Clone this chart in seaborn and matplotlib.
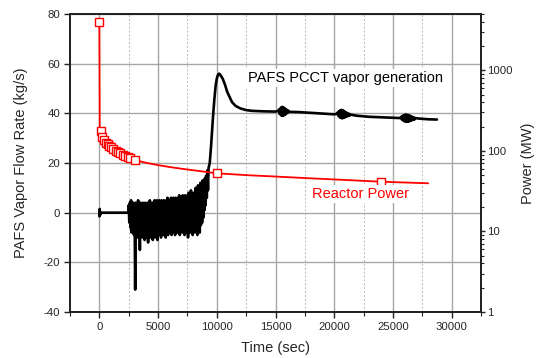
import numpy as np
import pandas as pd
import matplotlib
matplotlib.use("Agg")
import matplotlib.pyplot as plt
import seaborn as sns
from matplotlib.ticker import FixedLocator, MultipleLocator, LogLocator, NullFormatter

# ---------------- data ----------------
# PAFS PCCT vapor flow (kg/s)
flow_t_start = [0, 30, 60, 100, 2450]
flow_v_start = [-1.5, 1.5, -1.0, 0.0, 0.0]

# noisy phase, samples every 50 s starting at 2450 s
noise_t0 = 2450
noise_v = [0, 3, -4, 4, -6, 5, -8, 3, -7, 4, -9, 2, -31, 4, -8, 3, -10, 5, -8, 3,
           -15, 4, -9, 3, -10, 4, -8, 2, -11, 4, -9, 3, -10, 4, -12, 3, -9, 5, -10, 3,
           -8, 4, -11, 4, -9, 5, -10, 3, -8, 5, -11, 4, -9, 5, -8, 4, -10, 5, -7, 4,
           -9, 5, -8, 4, -10, 5, -7, 6, -9, 4, -8, 5, -7, 6, -9, 5, -8, 6, -7, 5,
           -9, 6, -6, 5, -8, 6, -7, 7, -9, 5, -6, 6, -8, 7, -7, 6, -9, 7, -6, 6,
           -8, 7, -10, 8, -6, 6, -8, 9, -7, 7, -9, 8, -6, 7, -8, 10, -7, 8, -9, 11,
           -6, 9, -8, 12, -5, 10, -4, 13, -2, 11, 1, 14, 3, 15, 6, 17, 9, 18]

rise_t = [9400, 9500, 9600, 9700, 9800, 9900, 10000, 10100, 10200, 10300, 10500,
          10700, 10900, 11100, 11300, 11600, 12000, 12500, 13000, 14000, 15000, 15250]
rise_v = [20, 26, 33, 40, 46, 51, 54, 55.5, 56, 55.5, 54,
          51.5, 48.5, 46.5, 44.5, 43, 42, 41.3, 41, 40.8, 40.7, 41]

osc1_t0 = 15300
osc1_v = [41.5, 39.8, 42, 39.3, 42.5, 39, 42.6, 39, 42.3, 39.3, 42, 39.6, 41.6, 40,
          41.3, 40.2, 41]

mid1_t = [16200, 17000, 18000, 19000, 20000, 20200]
mid1_v = [40.6, 40.5, 40.2, 39.9, 39.6, 39.8]

osc2_t0 = 20300
osc2_v = [40.3, 39, 40.8, 38.5, 41.2, 38.2, 41.4, 38, 41.3, 38.1, 41, 38.3, 40.7,
          38.5, 40.4, 38.7, 40.1, 38.9, 39.9, 39.1, 39.7, 39.2, 39.5]

mid2_t = [21700, 22000, 23000, 24000, 25000, 25600]
mid2_v = [39.2, 39, 38.6, 38.4, 38.2, 38.1]

osc3_t0 = 25700
osc3_v = [38.6, 37.6, 38.9, 37.2, 39.2, 36.9, 39.4, 36.7, 39.5, 36.6, 39.4, 36.6,
          39.3, 36.7, 39.1, 36.9, 38.9, 37.1, 38.7, 37.3, 38.5, 37.4, 38.3, 37.6, 38.1]

tail_t = [27200, 27500, 28000, 28750]
tail_v = [37.9, 37.8, 37.6, 37.5]

sample_dt = 50  # s, spacing of the sampled noisy / oscillating stretches

# Reactor power (MW)
power_t = [0, 30, 100, 250, 400, 550, 700, 850, 1000, 1200, 1400, 1600, 1800, 2000,
           2200, 2400, 2600, 3000, 3500, 4000, 5000, 6000, 7000, 8000, 9000, 10000,
           12500, 15000, 17500, 20000, 22000, 24000, 26000, 28000]
power_mw = [4000, 200, 178, 150, 136, 127, 122, 116, 112, 107, 101, 97, 93, 90,
            87, 84, 81, 77, 74, 71, 66.5, 63, 60, 57.5, 55, 52.7,
            50, 48, 46, 44.2, 42.8, 41.4, 40.5, 39.6]
power_marker_t = [0, 100, 250, 400, 550, 700, 850, 1000, 1200, 1400, 1600, 1800,
                  2000, 2200, 2400, 2600, 3000, 10000, 24000]

x_ticks = [0, 5000, 10000, 15000, 20000, 25000, 30000]
y_ticks = [-40, -20, 0, 20, 40, 60, 80]
r_ticks = [1, 10, 100, 1000]

# ---------------- build frames ----------------
def sampled(t0, vals):
    return [t0 + sample_dt * i for i in range(len(vals))]

flow = pd.DataFrame({
    "t": (flow_t_start + sampled(noise_t0, noise_v) + rise_t + sampled(osc1_t0, osc1_v)
          + mid1_t + sampled(osc2_t0, osc2_v) + mid2_t + sampled(osc3_t0, osc3_v) + tail_t),
    "v": (flow_v_start + noise_v + rise_v + osc1_v + mid1_v + osc2_v + mid2_v
          + osc3_v + tail_v),
})
power = pd.DataFrame({"t": power_t, "mw": power_mw})
power_mk = power[power["t"].isin(power_marker_t)]

# ---------------- plot ----------------
sns.set_theme(style="white")
plt.rcParams["font.family"] = ["Liberation Sans", "DejaVu Sans"]
plt.rcParams["axes.unicode_minus"] = False

fig = plt.figure(figsize=(5.36, 3.58), dpi=100)
ax = fig.add_axes([70 / 536, 1 - 312 / 358, (481 - 70) / 536, (312 - 14) / 358])

ax.set_xlim(-2500, 32500)
ax.set_ylim(-40, 80)
ax.xaxis.set_major_locator(FixedLocator(x_ticks))
ax.xaxis.set_minor_locator(MultipleLocator(2500))
ax.yaxis.set_major_locator(FixedLocator(y_ticks))

ax.grid(which="major", axis="both", color="#a6a6a6", lw=1.0, ls="-", zorder=0)
ax.grid(which="minor", axis="x", color="#b8b8b8", lw=0.7, ls=(0, (2, 2)), zorder=0)
ax.set_axisbelow(True)

sns.lineplot(data=flow, x="t", y="v", ax=ax, color="black", lw=1.9,
             sort=False, estimator=None)

ax.set_xlabel("Time (sec)", fontsize=10.5, labelpad=7)
ax.set_ylabel("PAFS Vapor Flow Rate (kg/s)", fontsize=10.5, labelpad=11)

ax2 = ax.twinx()
ax2.set_yscale("log")
ax2.set_ylim(1, 5000)
sns.lineplot(data=power, x="t", y="mw", ax=ax2, color="red", lw=1.3,
             sort=False, estimator=None)
ax2.plot(power_mk["t"], power_mk["mw"], ls="none", marker="s", ms=6,
         mfc="white", mec="red", mew=1.0)
ax2.yaxis.set_major_locator(FixedLocator(r_ticks))
ax2.set_yticklabels([str(v) for v in r_ticks])
ax2.yaxis.set_minor_locator(LogLocator(base=10, subs=np.arange(2, 10)))
ax2.yaxis.set_minor_formatter(NullFormatter())
ax2.set_ylabel("Power (MW)", fontsize=10.5, labelpad=6)
ax2.set_xlim(-2500, 32500)

for a in (ax, ax2):
    for s in a.spines.values():
        s.set_color("#222222")
        s.set_linewidth(1.3)
        s.set_visible(True)

ax.tick_params(axis="both", which="major", direction="out", length=4.5, width=1,
               labelsize=8.2, color="#222222", pad=2.5,
               left=True, bottom=True, right=False, top=False)
ax.tick_params(axis="x", which="minor", direction="out", length=3, width=0.8,
               bottom=True, color="#222222")
ax2.tick_params(axis="y", which="major", direction="out", length=3, width=1,
                labelsize=8.2, right=True, color="#222222", pad=1.5)
ax2.tick_params(axis="y", which="minor", direction="out", length=2, width=0.8,
                right=True, color="#222222")

ax2.text(12700, 54.2, "PAFS PCCT vapor generation", transform=ax.transData,
         fontsize=10.5, color="black", va="center", ha="left",
         bbox=dict(facecolor="white", edgecolor="none", pad=1.5), zorder=5)
ax2.text(18100, 7.5, "Reactor Power", transform=ax.transData,
         fontsize=10.5, color="red", va="center", ha="left",
         bbox=dict(facecolor="white", edgecolor="none", pad=1.5), zorder=5)

fig.savefig("out.png", dpi=100)
